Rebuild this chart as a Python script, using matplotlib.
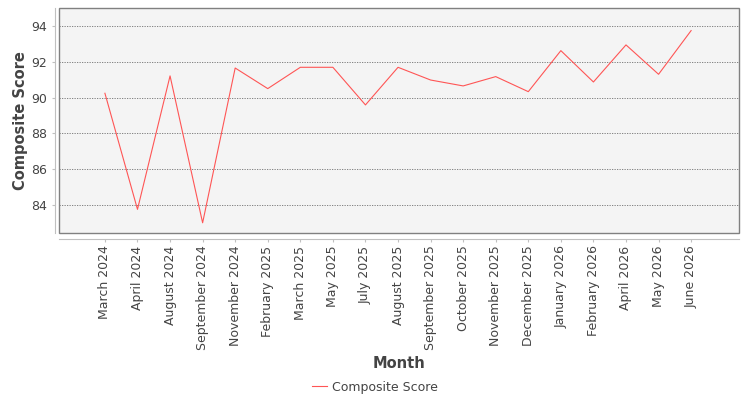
import matplotlib
matplotlib.use('Agg')
import matplotlib.pyplot as plt
from matplotlib.patches import Rectangle

# data
months = ['March 2024', 'April 2024', 'August 2024', 'September 2024', 'November 2024',
          'February 2025', 'March 2025', 'May 2025', 'July 2025', 'August 2025',
          'September 2025', 'October 2025', 'November 2025', 'December 2025',
          'January 2026', 'February 2026', 'April 2026', 'May 2026', 'June 2026']
scores = [90.24, 83.76, 91.21, 83.01, 91.65, 90.50, 91.69, 91.69, 89.59, 91.69,
          90.98, 90.65, 91.17, 90.33, 92.62, 90.87, 92.94, 91.30, 93.74]
y_ticks = [84, 86, 88, 90, 92, 94]

plt.rcParams['font.family'] = ['DejaVu Sans']

fig = plt.figure(figsize=(7.5, 4), dpi=100)
ax = fig.add_axes([59 / 750, 1 - 233 / 400, 680 / 750, 225 / 400])
ax.set_facecolor('#f4f4f4')

x = list(range(len(months)))
ax.plot(x, scores, color='#ff5555', linewidth=0.8, label='Composite Score')

ax.set_xlim(-1.41, len(months) - 1 + 1.47)
ax.set_ylim(82.44, 95.0)
ax.tick_params(axis='y', labelsize=9, labelcolor='#444444', length=2, color='#c0c0c0')
ax.tick_params(axis='x', length=2, color='#c0c0c0', pad=3, labelrotation=90,
               labelsize=9, labelcolor='#444444')
ax.set_yticks(y_ticks)
ax.set_xticks(x)
ax.set_xticklabels(months)

ax.grid(True, axis='y', linestyle=(0, (1.5, 1.5)), color='#707070', linewidth=0.6)
ax.set_axisbelow(True)

# axis lines offset from the plot, JFreeChart style
for s in ['top', 'right']:
    ax.spines[s].set_visible(False)
ax.spines['left'].set_position(('outward', 3))
ax.spines['bottom'].set_position(('outward', 4))
ax.spines['left'].set_color('#c0c0c0')
ax.spines['bottom'].set_color('#c0c0c0')
ax.add_patch(Rectangle((0, 0), 1, 1, transform=ax.transAxes, fill=False,
                       edgecolor='#808080', linewidth=1.0, clip_on=False, zorder=5))

ax.set_ylabel('Composite Score', fontsize=10.5, fontweight='bold', color='#444444', labelpad=2)
ax.set_xlabel('Month', fontsize=10.5, fontweight='bold', color='#444444', labelpad=4)

fig.legend(loc='center', bbox_to_anchor=(0.5, 1 - 387 / 400), frameon=False,
           fontsize=9, handlelength=1.2, handletextpad=0.4, labelcolor='#444444')

fig.savefig('out.png', dpi=100)
